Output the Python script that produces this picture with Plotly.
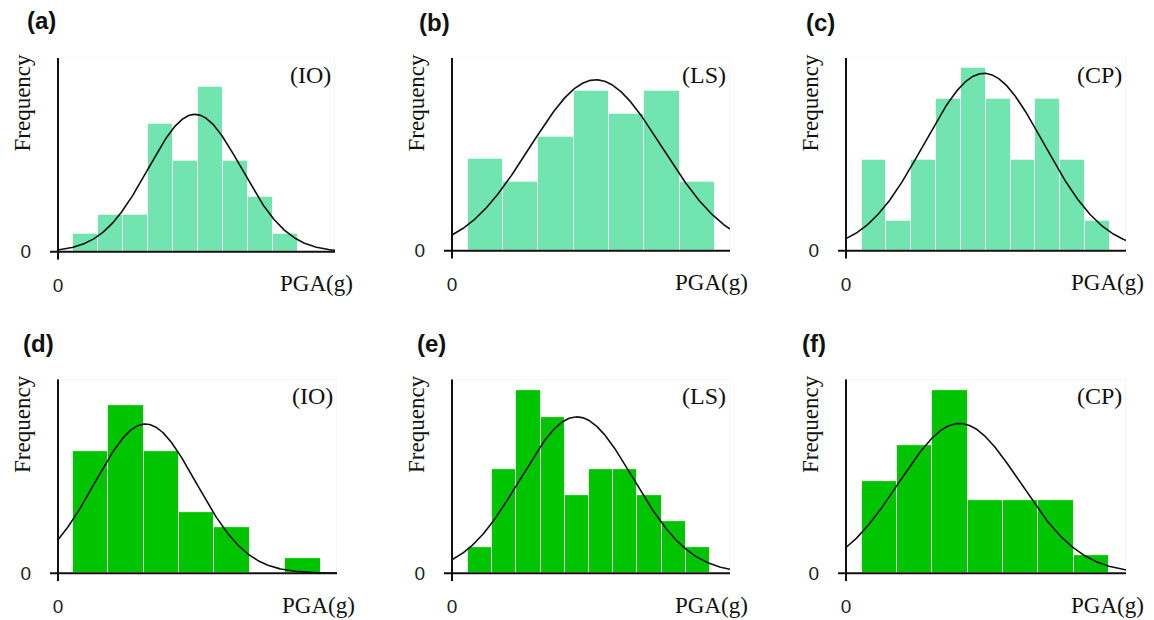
import numpy as np
import plotly.graph_objects as go

W, H = 1154, 620

# ---- data (x in bin-width units, y in counts) ----
panel_tags = ["(a)", "(b)", "(c)", "(d)", "(e)", "(f)"]
state_tags = ["(IO)", "(LS)", "(CP)", "(IO)", "(LS)", "(CP)"]

counts_a = [1, 2, 2, 7, 5, 9, 5, 3, 1]
counts_b = [4, 3, 5, 7, 6, 7, 3]
counts_c = [3, 1, 3, 5, 6, 5, 3, 5, 3, 1]
counts_d = [8, 11, 8, 4, 3, 0, 1]
counts_e = [1, 4, 7, 6, 3, 4, 4, 3, 2, 1]
counts_f = [5, 7, 10, 4, 4, 4, 1]
all_counts = [counts_a, counts_b, counts_c, counts_d, counts_e, counts_f]

first_bin_start = [0.60, 0.45, 0.63, 0.42, 0.66, 0.44]
fit_mean = [5.47, 4.08, 5.56, 2.47, 5.16, 3.21]
fit_std = [1.86, 1.87, 2.40, 1.43, 2.33, 1.71]
x_max = [11.07, 7.88, 11.28, 7.88, 11.49, 7.92]
y_max = [10.6, 8.43, 6.33, 12.7, 7.44, 10.58]

colors = ["#72E4B0"] * 3 + ["#00C400"] * 3

# ---- layout geometry (pixels) ----
ax_left = [58, 452, 846, 58, 452, 846]
ax_right = [335, 730, 1126, 337, 730, 1126]
ax_base = [253, 252, 252, 576, 576, 576]
ax_top = [58, 58, 58, 381, 381, 381]
tag_pos = [(41, 21), (434, 23), (820, 23), (38, 345), (431, 345), (814, 345)]
EXT = 8

SERIF = "Liberation Serif, Times New Roman, serif"
SANS = "Liberation Sans, Arial, sans-serif"

fig = go.Figure()
annotations = []
shapes = []

for i in range(6):
    n = i + 1
    xs = "" if n == 1 else str(n)
    xref, yref = "x" + xs, "y" + xs
    counts = all_counts[i]
    centers = [first_bin_start[i] + k + 0.5 for k in range(len(counts))]
    fig.add_trace(go.Bar(
        x=centers, y=counts, width=1.0,
        marker=dict(color=colors[i], line=dict(color="rgba(255,255,255,0.85)", width=1)),
        xaxis=xref, yaxis=yref, hoverinfo="skip",
    ))
    total = sum(counts)
    cx = np.linspace(0, x_max[i], 300)
    cy = total / (fit_std[i] * np.sqrt(2 * np.pi)) * np.exp(-0.5 * ((cx - fit_mean[i]) / fit_std[i]) ** 2)
    fig.add_trace(go.Scatter(
        x=cx, y=cy, mode="lines", line=dict(color="#111111", width=1.6),
        xaxis=xref, yaxis=yref, hoverinfo="skip",
    ))

    x0, x1, b, t = ax_left[i], ax_right[i], ax_base[i], ax_top[i]
    ppx = (x1 - x0) / x_max[i]
    ppy = (b - t) / y_max[i]
    xr = [-EXT / ppx, x_max[i]]
    yr = [-EXT / ppy, y_max[i]]
    xd = [(x0 - EXT) / W, x1 / W]
    yd = [1 - (b + EXT) / H, 1 - t / H]

    fig.update_layout(**{
        ("xaxis" + xs): dict(
            domain=xd, range=xr, showgrid=False, zeroline=False, showline=False,
            tickvals=[0], ticktext=["0"], ticks="outside", ticklen=8,
            tickcolor="rgba(0,0,0,0)", tickfont=dict(family=SANS, size=19, color="#222"),
            anchor=yref, fixedrange=True,
        ),
        ("yaxis" + xs): dict(
            domain=yd, range=yr, showgrid=False, zeroline=False, showline=False,
            tickvals=[0], ticktext=["0"], ticks="outside", ticklen=14,
            tickcolor="rgba(0,0,0,0)", tickfont=dict(family=SANS, size=19, color="#222"),
            anchor=xref, fixedrange=True,
        ),
    })

    # faint plot frame
    shapes.append(dict(type="rect", xref=xref, yref=yref, x0=0, y0=0, x1=x_max[i], y1=y_max[i],
                       line=dict(color="#ECECEC", width=1), layer="below"))
    # axis lines crossing at origin
    shapes.append(dict(type="line", xref=xref, yref=yref, x0=xr[0], y0=0, x1=x_max[i], y1=0,
                       line=dict(color="#111111", width=2), layer="above"))
    shapes.append(dict(type="line", xref=xref, yref=yref, x0=0, y0=yr[0], x1=0, y1=y_max[i],
                       line=dict(color="#111111", width=2), layer="above"))

    # state tag inside plot
    annotations.append(dict(text=state_tags[i], xref=xref + " domain", yref=yref + " domain",
                            x=1, y=1, xanchor="right", yanchor="middle", xshift=-2, yshift=-17,
                            showarrow=False, font=dict(family=SERIF, size=24, color="#111")))
    # panel letter
    tx, ty = tag_pos[i]
    annotations.append(dict(text="<b>" + panel_tags[i] + "</b>", xref="paper", yref="paper",
                            x=tx / W, y=1 - ty / H, xanchor="center", yanchor="middle",
                            showarrow=False, font=dict(family=SANS, size=24, color="#111")))
    # y title
    annotations.append(dict(text="Frequency", xref="paper", yref="paper",
                            x=(x0 - 35) / W, y=1 - (t + 45) / H, xanchor="center", yanchor="middle",
                            textangle=-90, showarrow=False,
                            font=dict(family=SERIF, size=23, color="#111")))
    # x title
    annotations.append(dict(text="PGA(g)", xref="paper", yref="paper",
                            x=(x1 + 20) / W, y=1 - (b + 32) / H, xanchor="right", yanchor="middle",
                            showarrow=False, font=dict(family=SERIF, size=23, color="#111")))

fig.update_layout(
    width=W, height=H, margin=dict(l=0, r=0, t=0, b=0),
    paper_bgcolor="white", plot_bgcolor="white", showlegend=False,
    bargap=0, annotations=annotations, shapes=shapes,
)

fig.write_html("out.html", config={"displayModeBar": False})
